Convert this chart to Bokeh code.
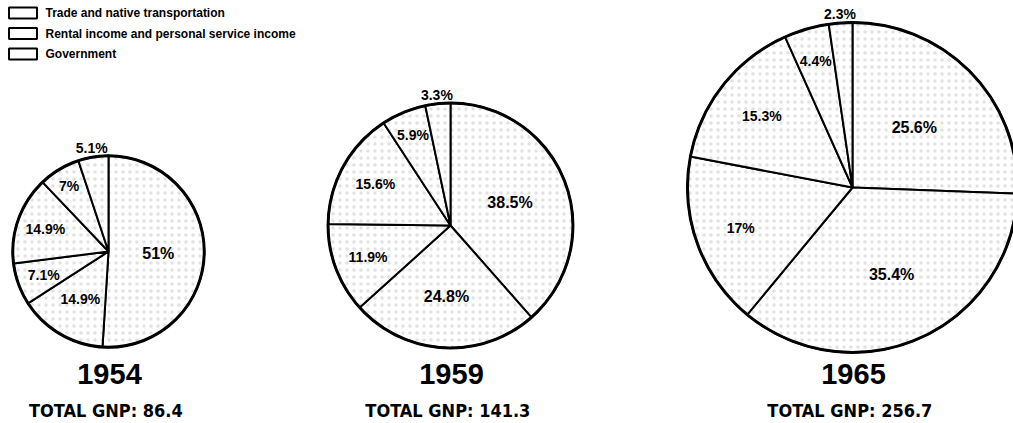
import numpy as np
from bokeh.plotting import figure
from bokeh.models import ColumnDataSource, Range1d
from bokeh.core.properties import value
from bokeh.embed import file_html
from bokeh.resources import INLINE

# ---- data ----
years = ["1954", "1959", "1965"]
total_gnp = [86.4, 141.3, 256.7]
shares_1954 = [51, 14.9, 7.1, 14.9, 7, 5.1]
shares_1959 = [38.5, 24.8, 11.9, 15.6, 5.9, 3.3]
shares_1965 = [25.6, 35.4, 17, 15.3, 4.4, 2.3]
legend_labels = ["Trade and native transportation",
                 "Rental income and personal service income",
                 "Government"]

# ---- layout (image pixel coordinates) ----
centers = [(108, 251), (450, 225), (852, 187)]
k_radius = 10.3           # radius = k * sqrt(total GNP): area proportional to GNP
label_r = [0.52, 0.58, 0.72, 0.70, 0.80, None]   # None -> outside, at the top

p = figure(width=1013, height=423, output_backend="svg", toolbar_location=None,
           x_range=Range1d(0, 1013), y_range=Range1d(423, 0),
           x_axis_location=None, y_axis_location=None, min_border=0,
           background_fill_color="white", border_fill_color="white")
p.outline_line_color = None
p.grid.visible = False

FONT = value("Liberation Sans")
COND = value("'DejaVu Sans Condensed', 'Liberation Sans Narrow', Roboto, sans-serif")

all_shares = [shares_1954, shares_1959, shares_1965]
for i, shares in enumerate(all_shares):
    cx, cy = centers[i]
    r = k_radius * np.sqrt(total_gnp[i])
    frac = np.array(shares, dtype=float) / 100.0
    cum = np.concatenate([[0.0], np.cumsum(frac)])
    start = np.pi / 2 - 2 * np.pi * cum[:-1]
    end = np.pi / 2 - 2 * np.pi * cum[1:]
    n = len(shares)
    src = ColumnDataSource(dict(x=[cx] * n, y=[cy] * n, start=start, end=end))
    p.wedge(x="x", y="y", radius=r, start_angle="start", end_angle="end",
            direction="clock", source=src, fill_color="white",
            line_color="black", line_width=2,
            hatch_pattern="dot", hatch_color="#9a9a9a", hatch_scale=7,
            hatch_weight=1, hatch_alpha=0.3)
    p.circle(x=[cx], y=[cy], radius=r, fill_color=None, line_color="black",
             line_width=3)

    # slice labels
    mid = 2 * np.pi * (cum[:-1] + cum[1:]) / 2   # clockwise from top
    lx, ly, lt, ls = [], [], [], []
    for j, v in enumerate(shares):
        f = label_r[j]
        dist = r + 9 if f is None else f * r
        lx.append(cx + dist * np.sin(mid[j]))
        ly.append(cy - dist * np.cos(mid[j]))
        lt.append(f"{v:g}%")
        ls.append("16px" if v >= 20 else "14px")
    lsrc = ColumnDataSource(dict(x=lx, y=ly, t=lt, s=ls))
    p.text(x="x", y="y", text="t", source=lsrc, text_font=FONT,
           text_font_style="bold", text_font_size="s", text_align="center",
           text_baseline="middle", text_color="black")

    # year and total
    p.text(x=[cx + 1], y=[373], text=[years[i]], text_font=FONT,
           text_font_style="bold", text_font_size="29px", text_align="center",
           text_baseline="middle", text_color="black")
    p.text(x=[cx + 3], y=[410], text=[f"TOTAL  GNP:  {total_gnp[i]:g}"],
           text_font=COND, text_font_style="bold",
           text_font_size="18px", text_align="center", text_baseline="middle",
           text_color="black")

# legend
ly = [12.5 + 20.5 * j for j in range(len(legend_labels))]
p.rect(x=[22.5] * len(ly), y=ly, width=28, height=11, fill_color="white",
       line_color="black", line_width=2)
p.text(x=[45] * len(ly), y=ly, text=legend_labels, text_font=FONT,
       text_font_style="bold", text_font_size="12px", text_align="left",
       text_baseline="middle", text_color="black")

open("out.html", "w").write(file_html(p, INLINE))
